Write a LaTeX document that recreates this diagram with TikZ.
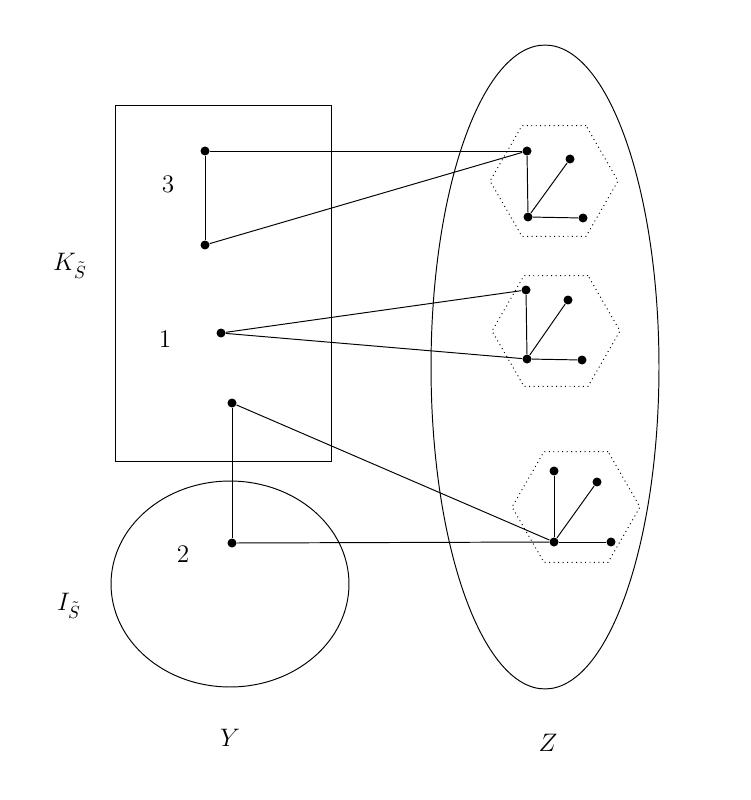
\documentclass[tikz,border=0pt]{standalone}
\usepackage{amsmath}
\usepackage{tikz}
\usetikzlibrary{shapes.geometric}

\begin{document}
\begin{tikzpicture}[
    x=0.02cm, y=-0.02cm,
    line width=0.55pt,
    dot/.style={circle, fill=black, inner sep=0pt, minimum size=0.18cm},
    hexa/.style={regular polygon, regular polygon sides=6, draw, dotted, inner sep=0pt, minimum size=2.56cm},
    every node/.style={font=\Large}
]
\useasboundingbox (0,0) rectangle (750,800);

% Left side: the box and the ellipse
\draw (115,105) rectangle (331,461);
\node[draw, ellipse, minimum width=4.76cm, minimum height=4.12cm, inner sep=0pt] (Yset) at (230,584) {};
\node[draw, ellipse, minimum width=4.56cm, minimum height=12.88cm, inner sep=0pt] (Zset) at (545,367) {};

% Labels
\node (kS) at (70,266) {$K_{\tilde{S}}$};
\node (iS) at (69,606) {$I_{\tilde{S}}$};
\node (ylab) at (230,738) {$Y$};
\node (zlab) at (548,743) {$Z$};
\node (n3) at (168,184) {3};
\node (n1) at (165,339) {1};
\node (n2) at (183,554) {2};

% Hexagons
\node[hexa] (hex1) at (554,181) {};
\node[hexa] (hex2) at (556,331) {};
\node[hexa] (hex3) at (576,507) {};

% Points on the left
\node[dot] (p3a) at (205,151) {};
\node[dot] (p3b) at (205,245) {};
\node[dot] (p1) at (221,333) {};
\node[dot] (p2a) at (232,403) {};
\node[dot] (p2b) at (232,543) {};

% Stars in the hexagons
\node[dot] (h1a) at (527,151) {};
\node[dot] (h1b) at (570,159) {};
\node[dot] (h1c) at (528,217) {};
\node[dot] (h1d) at (583,218) {};

\node[dot] (h2a) at (526,290) {};
\node[dot] (h2b) at (568,300) {};
\node[dot] (h2c) at (527,359) {};
\node[dot] (h2d) at (582,360) {};

\node[dot] (h3a) at (554,471) {};
\node[dot] (h3b) at (597,482) {};
\node[dot] (h3c) at (554,542) {};
\node[dot] (h3d) at (611,542) {};

\draw (h1c) -- (h1a);
\draw (h1c) -- (h1b);
\draw (h1c) -- (h1d);
\draw (h2c) -- (h2a);
\draw (h2c) -- (h2b);
\draw (h2c) -- (h2d);
\draw (h3c) -- (h3a);
\draw (h3c) -- (h3b);
\draw (h3c) -- (h3d);

% Edges
\draw (p3a) -- (p3b);
\draw (p3a) -- (h1a);
\draw (p3b) -- (h1a);
\draw (p1) -- (h2a);
\draw (p1) -- (h2c);
\draw (p2a) -- (p2b);
\draw (p2a) -- (h3c);
\draw (p2b) -- (h3c);

\end{tikzpicture}
\end{document}
